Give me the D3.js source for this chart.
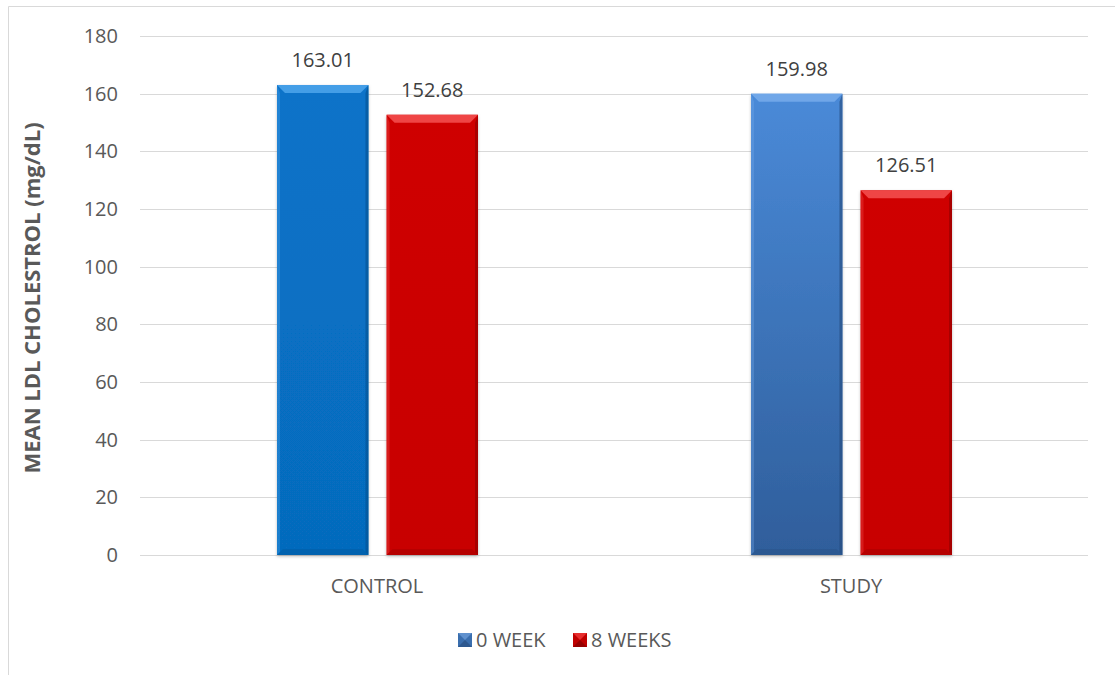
<!DOCTYPE html>
<html>
<head>
<meta charset="utf-8">
<script src="https://cdn.jsdelivr.net/npm/d3@7/dist/d3.min.js"></script>
<style>
  html, body { margin: 0; padding: 0; background: #fff; }
  svg { display: block; font-family: "Open Sans", "Liberation Sans", sans-serif; }
</style>
</head>
<body>
<svg id="chart" width="1115" height="675"></svg>
<script>
// Mean LDL cholesterol by group, at baseline and after 8 weeks
const categories = ["CONTROL", "STUDY"];
const seriesNames = ["0 WEEK", "8 WEEKS"];
const week0 = [163.01, 159.98];
const week8 = [152.68, 126.51];
const yTicks = [0, 20, 40, 60, 80, 100, 120, 140, 160, 180];
const yTitle = "MEAN LDL CHOLESTROL (mg/dL)";

const W = 1115, H = 675;
const plot = { left: 140, right: 1088, top: 36, bottom: 555 };

const svg = d3.select("#chart");
const defs = svg.append("defs");

// outer chart frame (only top and left edges fall inside the canvas)
svg.append("path")
  .attr("d", `M8.5,${H} V6.5 H${W}`)
  .attr("fill", "none").attr("stroke", "#d9d9d9").attr("stroke-width", 1);

const x = d3.scaleBand().domain(categories).range([plot.left, plot.right]);
const xs = d3.scaleBand().domain(seriesNames).range([137, 338]).paddingInner(0.165);
const y = d3.scaleLinear().domain([0, 180]).range([plot.bottom, plot.top]);

// gridlines
svg.append("g").selectAll("line").data(yTicks).join("line")
  .attr("x1", plot.left).attr("x2", plot.right)
  .attr("y1", d => Math.round(y(d)) + 0.5).attr("y2", d => Math.round(y(d)) + 0.5)
  .attr("stroke", "#d9d9d9").attr("stroke-width", 1);

// y axis tick labels
const yAxis = d3.axisLeft(y).tickValues(yTicks).tickSize(0).tickPadding(0);
const yg = svg.append("g").attr("transform", `translate(118,0)`).call(yAxis);
yg.select(".domain").remove();
yg.selectAll("text")
  .attr("fill", "#595959").attr("font-size", 20)
  .attr("font-family", "'Open Sans', sans-serif");

// x axis category labels
const xAxis = d3.axisBottom(x).tickSize(0).tickPadding(0);
const xg = svg.append("g").attr("transform", `translate(0,579)`).call(xAxis);
xg.select(".domain").remove();
xg.selectAll("text")
  .attr("fill", "#595959").attr("font-size", 20)
  .attr("font-family", "'Open Sans', sans-serif");

// y axis title
svg.append("text")
  .attr("transform", `translate(40,${(118 + 478) / 2}) rotate(-90)`)
  .attr("text-anchor", "middle")
  .attr("font-weight", "bold").attr("font-size", 22)
  .attr("fill", "#595959")
  .text(yTitle);

// fills for each bar: [main top, main bottom, light bevel, dark bevel]
const palettes = {
  "CONTROL|0 WEEK":  ["#0873c9", "#066bbd", "#4aa3ea", "#04508f"],
  "STUDY|0 WEEK":    ["#4a8ad8", "#2f5e9b", "#74aaea", "#244a7c"],
  "CONTROL|8 WEEKS": ["#cf0606", "#c80202", "#f24c4c", "#8f0000"],
  "STUDY|8 WEEKS":   ["#cf0606", "#c80202", "#f24c4c", "#8f0000"]
};
Object.entries(palettes).forEach(([k, p], i) => {
  const g = defs.append("linearGradient").attr("id", "g" + i)
    .attr("x1", 0).attr("y1", 0).attr("x2", 0).attr("y2", 1);
  g.append("stop").attr("offset", "0%").attr("stop-color", p[0]);
  g.append("stop").attr("offset", "100%").attr("stop-color", p[1]);
  p.grad = "url(#g" + i + ")";
});

const bars = [];
categories.forEach((c, ci) => {
  bars.push({ cat: c, ser: seriesNames[0], value: week0[ci] });
  bars.push({ cat: c, ser: seriesNames[1], value: week8[ci] });
});

const shadow = defs.append("filter").attr("id", "shadow")
  .attr("x", "-10%").attr("y", "-10%").attr("width", "120%").attr("height", "120%");
shadow.append("feDropShadow").attr("dx", 0).attr("dy", 1.5).attr("stdDeviation", 1.5)
  .attr("flood-color", "#000").attr("flood-opacity", 0.25);

const bev = 8;
const bg = svg.append("g");
bars.forEach(b => {
  const p = palettes[b.cat + "|" + b.ser];
  const x0 = x(b.cat) + xs(b.ser), w = xs.bandwidth();
  const x1 = x0 + w, yt = y(b.value), yb = y(0);
  const g = bg.append("g");
  g.append("rect").attr("x", x0).attr("y", yt).attr("width", w).attr("height", yb - yt)
    .attr("fill", p.grad).attr("filter", "url(#shadow)");
  // top bevel
  g.append("path").attr("d", `M${x0},${yt} L${x1},${yt} L${x1 - bev},${yt + bev} L${x0 + bev},${yt + bev} Z`)
    .attr("fill", p[2]).attr("opacity", 0.9);
  // side bevels
  g.append("path").attr("d", `M${x0},${yt} L${x0 + 3},${yt + bev} L${x0 + 3},${yb - 3} L${x0},${yb} Z`)
    .attr("fill", p[2]).attr("opacity", 0.35);
  g.append("path").attr("d", `M${x1},${yt} L${x1 - 3},${yt + bev} L${x1 - 3},${yb - 3} L${x1},${yb} Z`)
    .attr("fill", p[3]).attr("opacity", 0.6);
  // bottom bevel
  g.append("path").attr("d", `M${x0},${yb} L${x1},${yb} L${x1 - 6},${yb - 6} L${x0 + 6},${yb - 6} Z`)
    .attr("fill", p[3]).attr("opacity", 0.3);
  // value label
  svg.append("text")
    .attr("x", x0 + w / 2).attr("y", yt - 18)
    .attr("text-anchor", "middle").attr("font-size", 20).attr("fill", "#404040")
    .text(b.value.toFixed(2));
});

// legend
const legendItems = [
  { name: seriesNames[0], fill: "#3a6eae", light: "#6a9ad6", dark: "#24497a", x: 458 },
  { name: seriesNames[1], fill: "#c00000", light: "#f03a3a", dark: "#7a0000", x: 573 }
];
const lg = svg.append("g");
legendItems.forEach(it => {
  const s = 14, x0 = it.x, y0 = 633;
  lg.append("rect").attr("x", x0).attr("y", y0).attr("width", s).attr("height", s).attr("fill", it.fill);
  lg.append("path").attr("d", `M${x0},${y0} L${x0 + s},${y0} L${x0 + s / 2},${y0 + s / 2} Z`)
    .attr("fill", it.light).attr("opacity", 0.8);
  lg.append("path").attr("d", `M${x0},${y0 + s} L${x0 + s},${y0 + s} L${x0 + s / 2},${y0 + s / 2} Z`)
    .attr("fill", it.dark).attr("opacity", 0.6);
  lg.append("text").attr("x", x0 + s + 4).attr("y", y0 + 14)
    .attr("font-size", 20).attr("fill", "#595959").text(it.name);
});
</script>
</body>
</html>
